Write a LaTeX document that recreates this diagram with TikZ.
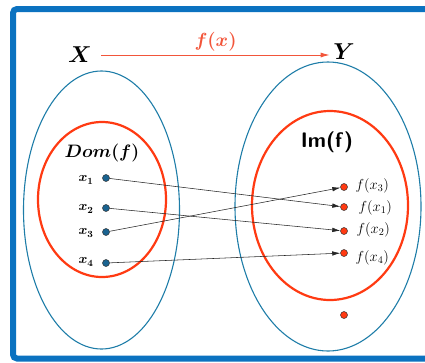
\RequirePackage{fix-cm}
\documentclass[tikz,border=0pt]{standalone}
\usepackage{amsmath,amssymb}
\usepackage{bm}
\usepackage{tikz}
\usepackage{xcolor}
\usetikzlibrary{arrows.meta}
\definecolor{frameblue}{HTML}{0B72C0}
\definecolor{setblue}{HTML}{1E7DA8}
\definecolor{setred}{HTML}{FF3A12}
\definecolor{ptblue}{HTML}{1A6390}
\definecolor{fxred}{HTML}{F2553A}

\begin{document}
\begin{tikzpicture}[x=1pt, y=-1pt, line width=0.6pt,
    dompt/.style={circle, fill=ptblue, draw=black!80, line width=0.5pt,
      inner sep=0pt, minimum size=7pt},
    impt/.style={circle, fill=setred, draw=black!80, line width=0.5pt,
      inner sep=0pt, minimum size=7pt},
    maparrow/.style={-{Latex[length=8pt,width=4.5pt]}, line width=0.55pt,
      black!85},
    xlabel/.style={font=\fontsize{13.5}{15}\selectfont},
    fxlabel/.style={font=\fontsize{14.5}{16}\selectfont, anchor=west}]
    \useasboundingbox (0,0) rectangle (425,362);
    % frame
    \draw[frameblue, line width=6pt, rounded corners=4pt]
          (430,9) -- (13,9) -- (13,358.5) -- (430,358.5);
    % sets X and Y
    \draw[setblue, line width=1.1pt] (101.5,210) ellipse (78 and 139);
    \draw[setblue, line width=1.1pt] (328,206.5) ellipse (93 and 144.5);
    % domain and image
    \draw[setred, line width=2.2pt] (102,199.5) ellipse (64 and 77.5);
    \draw[setred, line width=2.2pt] (330,205.5) ellipse (78 and 94.5);
    % set names
    \node[font=\fontsize{23}{25}\selectfont] (X) at (80,55) {$\bm{X}$};
    \node[font=\fontsize{23}{25}\selectfont] (Y) at (344,52) {$\bm{Y}$};
    \draw[fxred, line width=0.9pt, -{Latex[length=9pt,width=5pt]}]
          (X.east) ++(6,0) coordinate (fxa) (fxa) -- (Y.west |- fxa)
          node[midway, above=0pt, font=\fontsize{19}{21}\selectfont]
          {$\bm{f(x)}$};
    \node[font=\fontsize{18}{20}\selectfont] (dom) at (102,153) {$\bm{Dom(f)}$};
    \node[font=\fontsize{21}{23}\selectfont\sffamily\bfseries] (im) at (327,142) {Im(f)};
    % domain points
    \node[dompt] (x1) at (106,178) {};
    \node[dompt] (x2) at (106,208) {};
    \node[dompt] (x3) at (106,232) {};
    \node[dompt] (x4) at (106,263) {};
    \node[xlabel] at (86,180) {$\bm{x_1}$};
    \node[xlabel] at (86,209) {$\bm{x_2}$};
    \node[xlabel] at (86,233) {$\bm{x_3}$};
    \node[xlabel] at (86,262) {$\bm{x_4}$};
    % image points
    \node[impt] (y3) at (344,187) {};
    \node[impt] (y1) at (344,207) {};
    \node[impt] (y2) at (344,231) {};
    \node[impt] (y4) at (344,253) {};
    \node[impt] (yfree) at (344,315) {};
    \node[fxlabel] at (352,186) {$f(x_3)$};
    \node[fxlabel] at (355,208) {$f(x_1)$};
    \node[fxlabel] at (353,230) {$f(x_2)$};
    \node[fxlabel] at (352,258) {$f(x_4)$};
    % mapping
    \draw[maparrow] (x1) -- (y1);
    \draw[maparrow] (x2) -- (y2);
    \draw[maparrow] (x3) -- (y3);
    \draw[maparrow] (x4) -- (y4);
\end{tikzpicture}
\end{document}
